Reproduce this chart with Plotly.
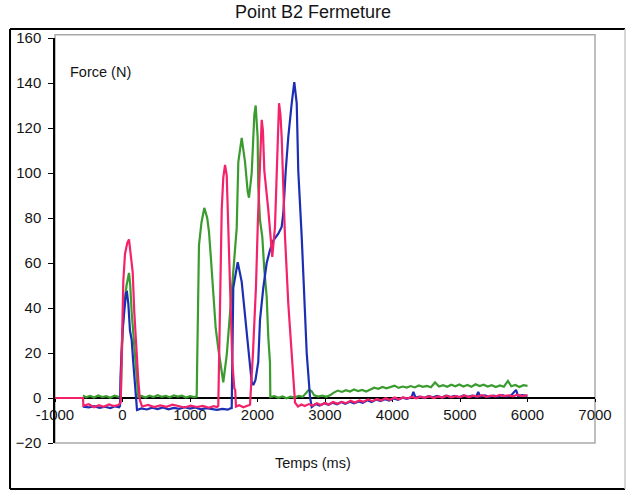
import plotly.graph_objects as go

# Temps (ms) / Force (N) for the three closing trials
rose_t = [-1000, -585, -580, -500, -420, -350, -280, -200, -130, -60, -27, -3, 12, 37, 71, 96, 121, 151,
          175, 200, 234, 259, 290, 380, 470, 560, 650, 740, 830, 920, 1010, 1100, 1190, 1280, 1350, 1400,
          1419, 1444, 1470, 1493, 1519, 1544, 1568, 1593, 1627, 1656, 1670, 1681, 1730, 1790, 1850, 1889,
          1933, 1978, 2007, 2037, 2062, 2080, 2101, 2160, 2200, 2219, 2259, 2285, 2319, 2340, 2358, 2382,
          2407, 2456, 2507, 2545, 2556, 2600, 2650, 2700, 2760, 2820, 2880, 2940, 3000, 3060, 3120, 3190,
          3250, 3310, 3380, 3440, 3510, 3570, 3640, 3700, 3770, 3830, 3900, 3960, 4030, 4090, 4160, 4220,
          4290, 4350, 4420, 4480, 4550, 4610, 4680, 4740, 4810, 4870, 4940, 5000, 5070, 5130, 5200, 5260,
          5330, 5390, 5460, 5520, 5590, 5650, 5720, 5780, 5850, 5910, 6000]
rose_f = [0, 0, -3.5, -2.8, -4.1, -3.2, -3.9, -2.9, -3.6, -3.1, -2, 30, 52, 64, 69, 70.5, 63, 56,
          38, 23, 8, -1, -3.8, -3.1, -4.0, -3.3, -3.9, -3.0, -3.7, -4.2, -3.4, -4.0, -3.5, -4.3, -3.6, -4.0,
          -3.5, 45.8, 84, 97.8, 103.6, 99, 75.6, 45.8, 16, 4.4, 3.5, -3.8, -3.2, -4.1, -3.5, -3.0,
          20, 50, 80, 105, 123.6, 119, 101, 83.6, 69, 62.7, 76, 101, 131, 126, 116, 94,
          72, 42, 20, 3.6, -2.0, -3.8, -2.9, -3.6, -2.7, -3.4, -2.3, -3.1, -2.2, -2.9, -1.8, -2.6,
          -1.7, -2.3, -1.2, -2.0, -1.1, -1.7, -0.6, -1.4, -0.4, -1.1, -0.1, -0.9, 0.2, -0.6, 0.3, -0.2,
          0.5, -0.1, 0.6, 0.1, 0.8, 0.0, 0.7, 0.2, 1.0, 0.3, 0.8, 0.4, 1.1, 0.4, 1.0, 0.6,
          1.3, 0.5, 1.1, 0.7, 1.4, 0.8, 1.2, 0.7, 1.5, 0.9, 1.2]

bleu_t = [-585, -500, -420, -340, -260, -180, -110, -50, -37, -30, 0, 22, 52, 66, 86, 111, 136, 160,
          185, 200, 215, 280, 360, 440, 520, 600, 680, 760, 840, 920, 1000, 1080, 1160, 1240, 1320, 1400,
          1480, 1560, 1600, 1618, 1641, 1707, 1766, 1815, 1864, 1914, 1938, 1970, 2011, 2037, 2086, 2136,
          2185, 2234, 2308, 2358, 2382, 2418, 2456, 2507, 2545, 2581, 2604, 2655, 2693, 2729, 2778, 2803,
          2860, 2920, 2990, 3050, 3110, 3180, 3240, 3300, 3370, 3430, 3500, 3560, 3630, 3690, 3760, 3820,
          3890, 3950, 4020, 4080, 4150, 4210, 4280, 4310, 4340, 4400, 4470, 4530, 4600, 4660, 4730, 4790,
          4860, 4920, 4990, 5050, 5120, 5180, 5240, 5270, 5300, 5370, 5430, 5500, 5560, 5630, 5690, 5760,
          5830, 5860, 5920, 6000]
bleu_f = [-3.8, -4.2, -3.6, -4.4, -3.9, -4.5, -3.7, -4.1, -3.5, 9, 30, 36, 46.7, 47, 42, 30, 25.8, 15.6,
          6.7, 2, -5.3, -4.6, -5.1, -4.3, -4.9, -4.2, -5.0, -4.4, -4.8, -4.1, -4.7, -4.2, -5.0, -4.5, -4.9, -5.3,
          -4.8, -5.2, -4.6, -4.5, 49, 60.4, 51.6, 38, 22, 7, 5.8, 8, 16, 34.7, 49, 60,
          65.8, 70, 73, 76, 82, 101, 116, 131, 140.4, 131, 101, 71.6, 42, 20, 0.4, -4.0,
          -2.7, -3.4, -2.3, -3.0, -2.1, -2.8, -1.8, -2.6, -1.7, -2.4, -1.5, -2.1, -1.0, -1.8, -0.7, -1.4,
          -0.5, -1.1, -0.2, -0.8, 0.1, -0.4, 0.3, 2.7, 0.2, 0.6, 0.0, 0.8, 0.3, 0.9, 0.2, 1.0,
          0.4, 0.9, 0.3, 1.1, 0.5, 1.0, 0.6, 2.7, 0.7, 1.2, 0.5, 1.1, 0.6, 1.3, 0.7, 1.2,
          3.6, 0.9, 1.3, 1.0]

vert_t = [-585, -540, -480, -420, -360, -300, -240, -180, -120, -60, -25, -10, 20, 60, 96, 115, 136, 175,
          210, 234, 280, 340, 400, 460, 520, 580, 640, 700, 760, 820, 880, 940, 1000, 1060, 1099, 1133,
          1170, 1212, 1255, 1281, 1310, 1345, 1381, 1419, 1470, 1493, 1544, 1593, 1641, 1692, 1716, 1766,
          1815, 1855, 1874, 1914, 1953, 1973, 2002, 2011, 2037, 2071, 2101, 2136, 2160, 2185, 2190, 2250,
          2310, 2370, 2430, 2490, 2550, 2610, 2670, 2720, 2760, 2800, 2840, 2900, 2960, 3020, 3080, 3130,
          3190, 3250, 3310, 3370, 3430, 3490, 3550, 3610, 3670, 3730, 3790, 3850, 3910, 3970, 4030, 4090,
          4150, 4210, 4270, 4330, 4390, 4450, 4510, 4570, 4630, 4690, 4750, 4810, 4870, 4930, 4990, 5050,
          5110, 5170, 5230, 5290, 5350, 5410, 5470, 5530, 5590, 5650, 5710, 5760, 5820, 5880, 5940, 6000]
vert_f = [1.2, 0.3, 0.9, 0.2, 1.1, 0.4, 0.8, 0.1, 1.0, 0.5, 0.7, 20, 40, 50, 55.6, 50, 38, 23,
          8, 0.5, 0.9, 0.2, 1.0, 0.4, 1.2, 0.5, 0.9, 0.3, 1.1, 0.6, 1.0, 0.2, 0.8, 0.4, 0.6, 68,
          78, 84.5, 80, 74, 62, 44, 31, 22, 10, 7, 19, 37, 58, 75.6, 105, 115.6,
          105, 91.6, 89, 100, 125.8, 130, 116, 94, 79, 71.6, 57, 45, 27, 15.6, 0.4, 0.8,
          0.1, 0.7, -0.1, 0.6, 0.2, 0.9, 0.5, 2.2, 3.6, 3.1, 1.2, 0.6, 1.1, 0.5, 1.3, 2.4,
          3.3, 2.7, 3.5, 2.9, 3.8, 3.1, 3.6, 2.9, 3.9, 4.6, 4.1, 4.9, 4.3, 4.8, 5.5, 4.5,
          5.1, 4.6, 5.3, 4.7, 5.6, 5.0, 5.4, 4.8, 6.9, 5.1, 5.7, 5.0, 5.9, 5.2, 6.0, 5.1,
          5.8, 5.0, 6.1, 5.3, 5.9, 5.1, 5.7, 4.9, 5.6, 5.0, 7.6, 5.2, 5.8, 4.9, 5.7, 5.4]

x_ticks = [-1000, 0, 1000, 2000, 3000, 4000, 5000, 6000, 7000]
y_ticks = [-20, 0, 20, 40, 60, 80, 100, 120, 140, 160]

series = [
    ("vert", vert_t, vert_f, "#3a9c2e"),
    ("bleu", bleu_t, bleu_f, "#1c2fb3"),
    ("rose", rose_t, rose_f, "#f3226b"),
]

fig = go.Figure()
for name, t, f, color in series:
    fig.add_trace(go.Scatter(x=t, y=f, mode="lines", name=name,
                             line=dict(color=color, width=2.2), showlegend=False))

txt = "#151515"
fig.update_layout(
    width=627, height=492,
    margin=dict(l=55, r=32, t=38, b=49),
    paper_bgcolor="white", plot_bgcolor="white",
    font=dict(family="Liberation Sans, Arial, sans-serif", color=txt),
    showlegend=False,
    xaxis=dict(range=[-1000, 7000], tickvals=x_ticks, ticktext=[str(v) for v in x_ticks],
               anchor="free", position=20 / 180, showline=True, linecolor="black", linewidth=1.5,
               ticks="outside", ticklen=3, tickcolor="black", showgrid=False, zeroline=False,
               tickfont=dict(size=15, color=txt), layer="below traces"),
    yaxis=dict(range=[-20, 160], tickvals=y_ticks, showline=True, linecolor="black", linewidth=1.5,
               ticks="outside", ticklen=5, tickcolor="black", showgrid=False, zeroline=False,
               tickfont=dict(size=15, color=txt), ticklabelstandoff=4),
    shapes=[
        # plot area border
        dict(type="rect", xref="paper", yref="paper", x0=0, x1=1, y0=0, y1=1.008,
             line=dict(color="#a9a9a9", width=1.5), layer="below"),
        # chart frame
        dict(type="line", xref="paper", yref="paper", x0=-0.0833, x1=-0.0833, y0=-0.1136, y1=1.0222,
             line=dict(color="black", width=2)),
        dict(type="line", xref="paper", yref="paper", x0=-0.0833, x1=1.0556, y0=1.0222, y1=1.0222,
             line=dict(color="black", width=2)),
        dict(type="line", xref="paper", yref="paper", x0=-0.0833, x1=1.0556, y0=-0.1136, y1=-0.1136,
             line=dict(color="black", width=2)),
        dict(type="line", xref="paper", yref="paper", x0=1.0556, x1=1.0556, y0=-0.1136, y1=1.0222,
             line=dict(color="#c8c8c8", width=1.5)),
    ],
    annotations=[
        dict(text="Point B2 Fermeture", xref="paper", yref="paper", x=0.478, y=1.064,
             xanchor="center", yanchor="middle", showarrow=False, font=dict(size=18, color=txt)),
        dict(text="Force (N)", xref="paper", yref="paper", x=0.024, y=0.916,
             xanchor="left", yanchor="middle", showarrow=False, font=dict(size=14.5, color=txt)),
        dict(text="Temps (ms)", xref="paper", yref="paper", x=0.478, y=-0.049,
             xanchor="center", yanchor="middle", showarrow=False, font=dict(size=14.5, color=txt)),
    ],
)

fig.write_html("out.html")
